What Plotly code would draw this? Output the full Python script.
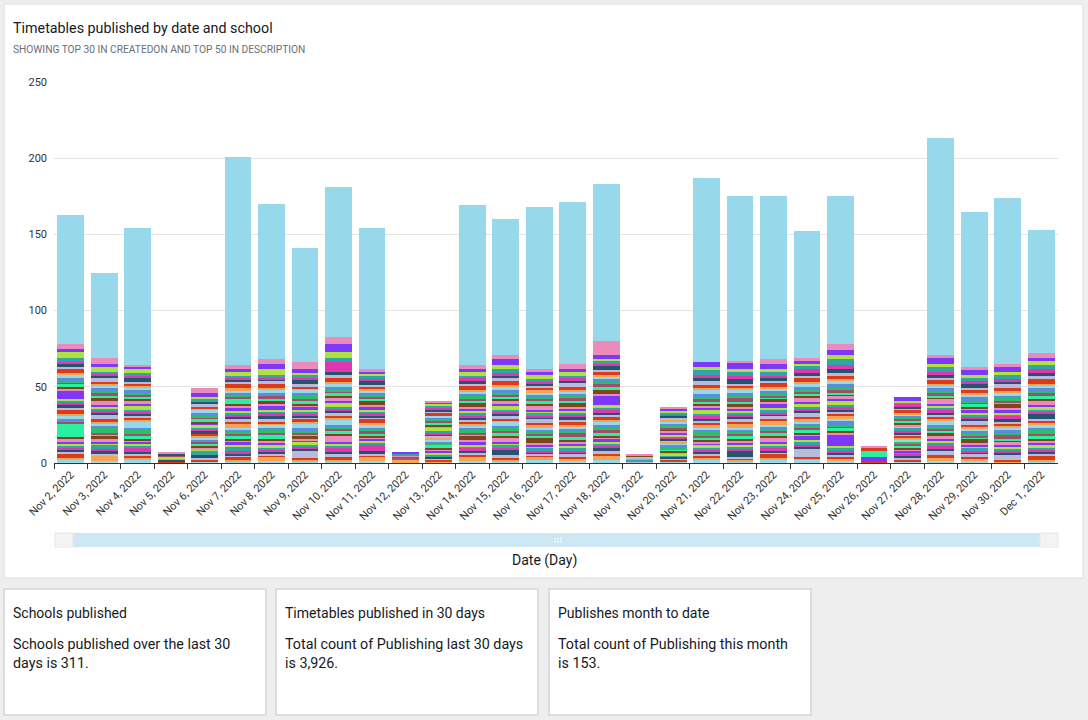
import plotly.graph_objects as go

dates = ["Nov 2, 2022", "Nov 3, 2022", "Nov 4, 2022", "Nov 5, 2022", "Nov 6, 2022",
         "Nov 7, 2022", "Nov 8, 2022", "Nov 9, 2022", "Nov 10, 2022", "Nov 11, 2022",
         "Nov 12, 2022", "Nov 13, 2022", "Nov 14, 2022", "Nov 15, 2022", "Nov 16, 2022",
         "Nov 17, 2022", "Nov 18, 2022", "Nov 19, 2022", "Nov 20, 2022", "Nov 21, 2022",
         "Nov 22, 2022", "Nov 23, 2022", "Nov 24, 2022", "Nov 25, 2022", "Nov 26, 2022",
         "Nov 27, 2022", "Nov 28, 2022", "Nov 29, 2022", "Nov 30, 2022", "Dec 1, 2022"]

# counts per school (top 50 schools, shown here as 40 stacked segments) for each date
nov02 = [2,1,3,1,2,1,1,2,1,2, 1,9,1,1,1,2,1,3,1,2, 2,1,1,5,2,1,2,1,1,2, 2,1,3,1,2,1,3,4,2,3]
nov03 = [1,4,0,1,2,1,3,1,1,2, 2,1,1,3,1,2,1,2,3,1, 1,2,1,1,3,2,1,2,1,2, 2,1,1,3,1,2,1,3,2,4]
nov04 = [2,1,2,1,1,3,1,2,1,1, 1,2,1,3,1,4,1,2,1,1, 2,1,3,1,2,1,1,2,1,2, 1,2,1,1,3,1,2,3,1,1]
nov05 = [0,0,1,0,1,0,0,0,0,0, 0,1,0,0,0,0,0,0,0,0, 0,0,1,0,0,0,0,1,0,0, 0,0,0,0,1,0,0,0,0,1]
nov06 = [1,0,1,1,2,0,3,1,0,1, 1,2,1,0,1,2,1,1,0,2, 1,1,2,1,0,1,2,1,1,2, 2,1,1,2,1,0,2,1,3,3]
nov07 = [1,1,2,1,1,2,3,1,2,1, 1,2,1,2,1,1,3,1,2,1, 2,1,1,2,2,1,3,1,2,1, 1,2,3,1,2,1,1,3,2,2]
nov08 = [1,3,1,1,1,2,1,2,1,2, 1,3,1,2,1,2,1,1,2,2, 2,1,1,3,1,2,1,2,1,1, 2,1,3,2,1,1,2,4,3,3]
nov09 = [1,1,1,5,1,2,1,2,1,1, 2,1,1,1,2,3,1,2,1,1, 1,2,1,2,1,1,2,1,3,1, 2,1,1,2,3,1,2,1,3,4]
nov10 = [1,1,2,2,1,3,1,2,1,4, 1,2,1,2,1,3,2,1,2,1, 2,1,3,1,2,1,2,1,1,2, 2,1,3,2,2,6,3,4,5,5]
nov11 = [1,3,1,1,2,4,1,2,1,1, 1,1,2,1,1,2,1,3,1,1, 2,1,1,2,1,3,1,1,2,1, 1,2,1,1,3,1,2,2,1,2]
nov12 = [0,2,0,0,0,1,0,0,0,0, 0,0,1,0,0,0,0,0,0,0, 0,0,0,0,1,0,0,0,0,0, 0,0,0,0,0,0,1,0,1,0]
nov13 = [0,1,1,1,1,0,1,2,1,1, 1,2,0,1,1,1,2,0,1,1, 1,1,2,0,1,1,1,2,1,1, 1,0,2,1,1,1,2,1,1,1]
nov14 = [1,3,1,2,1,2,1,1,2,1, 3,1,1,2,1,1,2,1,1,2, 1,2,1,2,1,3,1,1,2,1, 2,1,3,1,2,2,1,3,2,2]
nov15 = [1,1,1,2,4,1,2,1,1,3, 1,2,1,2,1,3,1,1,2,1, 2,1,3,1,2,1,1,2,1,2, 2,1,3,2,1,2,3,2,4,3]
nov16 = [2,2,1,1,1,1,2,1,1,1, 4,1,1,2,1,1,2,1,3,1, 1,2,1,1,3,1,2,1,1,2, 1,2,1,2,1,1,2,3,2,2]
nov17 = [1,2,1,2,1,1,2,1,2,1, 1,2,3,1,1,2,1,2,1,2, 2,1,1,2,1,3,1,2,1,1, 2,1,2,3,1,2,1,3,2,3]
nov18 = [2,3,1,2,2,1,2,1,2,1, 1,2,2,1,2,2,1,2,2,1, 2,1,2,6,1,3,2,2,1,2, 2,1,2,1,3,1,2,1,3,9]
nov19 = [0,0,0,1,0,0,1,0,0,0, 0,1,0,0,0,0,0,0,1,0, 0,0,0,0,0,1,0,0,0,0, 0,0,0,0,0,0,0,0,0,1]
nov20 = [1,0,1,1,1,0,1,1,0,1, 1,1,0,1,2,1,1,0,1,1, 1,0,2,1,1,1,0,1,1,2, 1,1,0,2,1,1,1,1,2,1]
nov21 = [2,1,2,1,1,2,1,2,1,1, 1,2,1,3,1,1,2,1,2,1, 2,1,3,1,2,1,1,2,1,2, 3,1,2,3,2,2,3,2,3,0]
nov22 = [1,1,1,1,4,1,2,1,1,2, 1,2,1,2,1,1,3,1,2,1, 2,1,1,2,1,2,1,3,1,2, 2,1,2,1,3,2,3,2,4,1]
nov23 = [2,1,3,1,1,2,1,2,1,3, 1,2,1,1,2,1,3,1,2,1, 1,2,1,3,1,2,1,1,2,1, 2,1,3,1,2,1,3,2,3,3]
nov24 = [2,1,1,5,2,1,2,1,3,1, 1,2,1,1,2,1,2,1,3,1, 2,1,2,1,3,1,1,2,1,2, 2,1,3,1,2,3,2,1,2,2]
nov25 = [1,2,1,1,2,1,2,1,8,1, 1,2,1,1,3,1,2,1,2,1, 2,1,3,1,2,1,1,2,1,3, 2,1,2,2,3,2,4,3,3,4]
nov26 = [0,0,1,0,0,0,0,0,3,0, 0,4,0,0,0,0,0,0,0,0, 0,0,0,0,0,0,0,0,0,0, 0,0,2,0,0,0,0,0,0,1]
nov27 = [1,0,1,1,2,1,1,0,1,1, 1,1,2,1,0,1,2,1,1,1, 1,2,1,0,1,1,2,1,1,1, 1,1,2,1,1,2,1,1,2,0]
nov28 = [1,2,2,3,1,2,2,2,1,2, 2,1,1,2,1,3,1,1,2,1, 2,1,2,1,3,1,1,2,1,2, 2,1,3,1,2,2,3,2,4,2]
nov29 = [1,2,1,2,1,1,2,1,1,1, 3,1,1,2,1,1,2,1,3,1, 1,2,1,2,1,1,2,1,1,2, 2,1,2,1,3,2,2,2,3,2]
nov30 = [0,1,1,3,2,1,1,2,1,2, 1,1,3,1,2,1,1,2,1,2, 2,1,1,2,1,3,1,1,2,1, 2,1,2,3,1,2,3,2,3,2]
dec01 = [1,1,3,1,1,2,1,2,1,2, 1,2,1,3,1,2,1,2,1,3, 2,1,2,1,3,1,2,2,1,2, 2,1,3,2,2,3,2,3,2,3]

# remaining schools grouped as "Other"
other = [85, 56, 90, 0, 0, 137, 102, 75, 98, 92, 0, 0, 105, 89, 106, 106, 103, 0, 0, 121,
         108, 107, 83, 97, 0, 0, 142, 102, 109, 81]

y_ticks = [0, 50, 100, 150, 200, 250]

days = [nov02, nov03, nov04, nov05, nov06, nov07, nov08, nov09, nov10, nov11,
        nov12, nov13, nov14, nov15, nov16, nov17, nov18, nov19, nov20, nov21,
        nov22, nov23, nov24, nov25, nov26, nov27, nov28, nov29, nov30, dec01]

palette = ["#97D9EA", "#F5A452", "#DC3A1A", "#B8BBDC", "#26536E", "#E036AF", "#30A5A5",
           "#AEE33E", "#7D38F9", "#EA8BBC", "#7E461B", "#2AF0A2", "#A04E6B", "#2DBF68",
           "#5A8EDC"]
other_color = "#97D9EA"

FONT = "Roboto"
W, H = 1088, 720


def px(x):
    return x / W


def py(y):
    return 1 - y / H


fig = go.Figure()
n_schools = len(nov02)
for i in range(n_schools):
    fig.add_trace(go.Bar(
        x=dates, y=[d[i] for d in days], name=f"School {i + 1}",
        marker=dict(color=palette[i % len(palette)], line=dict(width=0)),
    ))
fig.add_trace(go.Bar(x=dates, y=other, name="Other",
                     marker=dict(color=other_color, line=dict(width=0))))

shapes = [
    dict(type="rect", xref="paper", yref="paper", x0=px(4), x1=px(1083), y0=py(578), y1=py(4),
         fillcolor="white", line=dict(color="#DEDEDE", width=1), layer="below"),
]
for (x0, x1) in [(4, 266), (276, 538), (549, 811)]:
    shapes.append(dict(type="rect", xref="paper", yref="paper", x0=px(x0), x1=px(x1),
                       y0=py(715), y1=py(589), fillcolor="white",
                       line=dict(color="#DCDCDC", width=2), layer="below"))
# range slider look
shapes += [
    dict(type="rect", xref="paper", yref="paper", x0=px(55), x1=px(1058), y0=py(547), y1=py(533),
         fillcolor="#CDE8F4", line=dict(width=0)),
    dict(type="rect", xref="paper", yref="paper", x0=px(55), x1=px(73), y0=py(547), y1=py(533),
         fillcolor="#F3F3F3", line=dict(color="#E6E6E6", width=1)),
    dict(type="rect", xref="paper", yref="paper", x0=px(1040), x1=px(1058), y0=py(547), y1=py(533),
         fillcolor="#F3F3F3", line=dict(color="#E6E6E6", width=1)),
]
for gx in (554, 557, 560):
    for gy in (538, 541):
        shapes.append(dict(type="rect", xref="paper", yref="paper", x0=px(gx), x1=px(gx + 1.5),
                           y0=py(gy + 1.5), y1=py(gy), fillcolor="white", line=dict(width=0)))

ann = []


def text(x, y, s, size, color="#16191F", xanchor="left"):
    ann.append(dict(x=px(x), y=py(y), xref="paper", yref="paper", text=s, showarrow=False,
                    xanchor=xanchor, yanchor="middle", align="left",
                    font=dict(family=FONT, size=size, color=color)))


text(11, 28, "Timetables published by date and school", 14.3)
text(11, 50, "SHOWING TOP 30 IN CREATEDON AND TOP 50 IN DESCRIPTION", 10.2, "#687078")
text(544, 560, "Date (Day)", 14, xanchor="center")
text(11, 613, "Schools published", 14)
text(283, 613, "Timetables published in 30 days", 14)
text(556, 613, "Publishes month to date", 14)
text(11, 653, "Schools published over the last 30<br>days is 311.", 14.3)
text(283, 653, "Total count of Publishing last 30 days<br>is 3,926.", 14.3)
text(556, 653, "Total count of Publishing this month<br>is 153.", 14.3)

fig.update_layout(
    width=W, height=H, margin=dict(l=0, r=0, t=0, b=0, autoexpand=False),
    paper_bgcolor="#EEEEEE", plot_bgcolor="rgba(0,0,0,0)",
    barmode="stack", bargap=0.2, showlegend=False,
    font=dict(family=FONT, color="#16191F"),
    shapes=shapes, annotations=ann,
    xaxis=dict(domain=[px(54), px(1058)], type="category", range=[-0.5, 29.5],
               automargin=False,
               showline=True, linecolor="#333333", linewidth=1,
               ticks="outside", tickson="boundaries", ticklen=5, tickcolor="#333333",
               tickangle=-45, tickfont=dict(size=11, color="#333333"), showgrid=False),
    yaxis=dict(domain=[py(463), py(82)], range=[0, 250], tickvals=y_ticks,
               automargin=False,
               showgrid=True, gridcolor="#E4E4E4", gridwidth=1, zeroline=False,
               showline=False, ticks="", tickfont=dict(size=11, color="#333333"),
               ticklabelstandoff=6),
)

fig.write_html("out.html", config={"displayModeBar": False},
               post_script="document.body.style.margin='0';document.body.style.overflow='hidden';")
